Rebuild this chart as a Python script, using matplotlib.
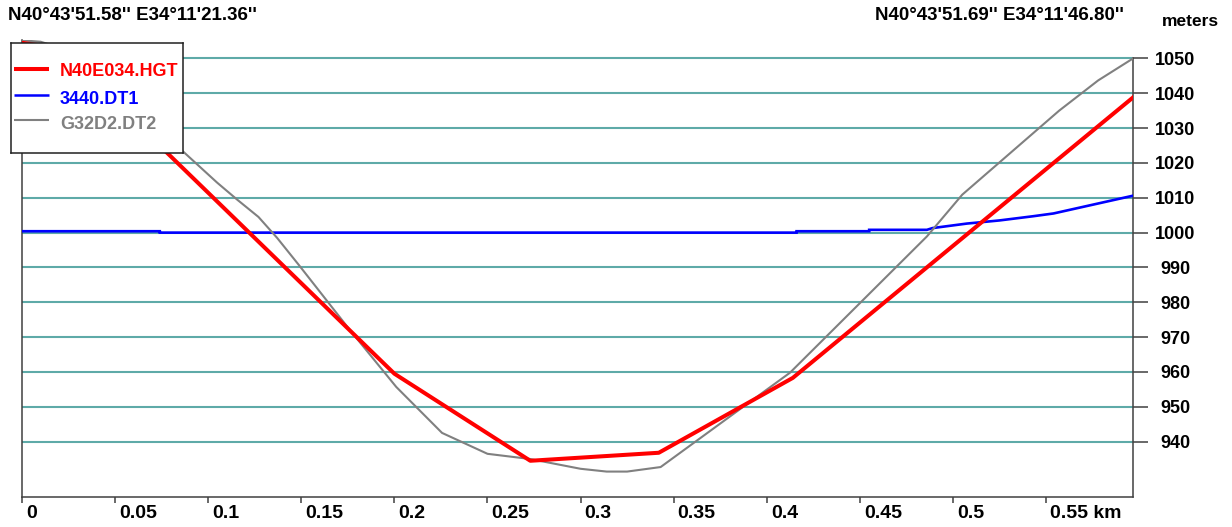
import matplotlib
matplotlib.use("Agg")
import matplotlib.pyplot as plt
from matplotlib import font_manager
from matplotlib.transforms import ScaledTranslation

# Elevation profiles along the path (distance in km, elevation in meters)
dist_hgt = [0.0, 0.02, 0.2, 0.273, 0.342, 0.414, 0.5967]
elev_hgt = [1054.5, 1053.0, 959.5, 934.5, 936.8, 958.3, 1038.8]

dist_dt1 = [0.0, 0.074, 0.074, 0.416, 0.416, 0.455, 0.455, 0.486, 0.489,
            0.5075, 0.525, 0.543, 0.554, 0.5967]
elev_dt1 = [1000.4, 1000.4, 1000.0, 1000.0, 1000.4, 1000.4, 1000.8, 1000.8,
            1001.3, 1002.6, 1003.5, 1004.7, 1005.5, 1010.6]

dist_dt2 = [0.0, 0.01, 0.03, 0.0865, 0.1047, 0.1155, 0.127, 0.137, 0.149,
            0.176, 0.201, 0.2256, 0.25, 0.273, 0.300, 0.314, 0.325, 0.343,
            0.4125, 0.486, 0.505, 0.557, 0.578, 0.5967]
elev_dt2 = [1055.2, 1054.8, 1051.5, 1023.3, 1014.4, 1009.5, 1004.5, 998.5,
            990.5, 972.1, 955.7, 942.5, 936.5, 935.0, 932.2, 931.4, 931.4,
            932.7, 959.8, 998.9, 1010.9, 1035.0, 1043.7, 1050.0]

series_names = ["N40E034.HGT", "3440.DT1", "G32D2.DT2"]
series_colors = ["#ff0000", "#0000ff", "#808080"]

x_ticks = [0, 0.05, 0.1, 0.15, 0.2, 0.25, 0.3, 0.35, 0.4, 0.45, 0.5, 0.55]
x_tick_labels = ["0", "0.05", "0.1", "0.15", "0.2", "0.25", "0.3", "0.35",
                 "0.4", "0.45", "0.5", "0.55 km"]
y_ticks = [940, 950, 960, 970, 980, 990, 1000, 1010, 1020, 1030, 1040, 1050]

start_label = "N40\u00b043'51.58'' E34\u00b011'21.36''"
end_label = "N40\u00b043'51.69'' E34\u00b011'46.80''"
unit_label = "meters"

W, H = 1232, 527
installed = {f.name for f in font_manager.fontManager.ttflist}
bold_font = "Liberation Sans" if "Liberation Sans" in installed else "DejaVu Sans"
narrow_font = ("Liberation Sans Narrow" if "Liberation Sans Narrow" in installed
               else bold_font)

axis_color = "#404040"
grid_color = "#5eaaa8"

fig = plt.figure(figsize=(W / 100, H / 100), dpi=100)
fig.patch.set_facecolor("white")

ax_left, ax_right, ax_top, ax_bottom = 22, 1133, 40, 497
ax = fig.add_axes([ax_left / W, 1 - ax_bottom / H,
                   (ax_right - ax_left) / W, (ax_bottom - ax_top) / H])
ax.set_facecolor("white")
ax.set_xlim(0, 0.5967)
ax.set_ylim(924.1, 1055.3)

# horizontal reference lines
for yv in y_ticks:
    ax.axhline(yv, color=grid_color, lw=1.5, zorder=1)

ax.plot(dist_dt1, elev_dt1, color=series_colors[1], lw=1.9, zorder=3,
        solid_joinstyle="miter")
ax.plot(dist_dt2, elev_dt2, color=series_colors[2], lw=1.5, zorder=4)
ax.plot(dist_hgt, elev_hgt, color=series_colors[0], lw=2.9, zorder=5)

for side in ("left", "bottom", "right"):
    ax.spines[side].set_color(axis_color)
    ax.spines[side].set_linewidth(1.1)
ax.spines["top"].set_visible(False)
ax.spines["right"].set_bounds(924.1, 1050)

ax.set_xticks(x_ticks)
ax.set_xticklabels(x_tick_labels)
ax.tick_params(axis="x", direction="out", length=4.5, width=1.1,
               color=axis_color, pad=1.5)
offset = ScaledTranslation(4 / 100, 0, fig.dpi_scale_trans)
for lab in ax.get_xticklabels():
    lab.set_horizontalalignment("left")
    lab.set_fontfamily(narrow_font)
    lab.set_fontweight("bold")
    lab.set_fontsize(14)
    lab.set_transform(lab.get_transform() + offset)

ax.yaxis.tick_right()
ax.set_yticks(y_ticks)
ax.set_yticklabels([str(v) for v in y_ticks])
ax.tick_params(axis="y", direction="out", length=10.8, width=1.1,
               color=axis_color, pad=19.5)
for lab in ax.get_yticklabels():
    lab.set_horizontalalignment("center")
    lab.set_fontfamily(bold_font)
    lab.set_fontweight("bold")
    lab.set_fontsize(13)

fig.text(8 / W, 1 - 15 / H, start_label, ha="left", va="center",
         fontfamily=bold_font, fontweight="bold", fontsize=13.5)
fig.text(875 / W, 1 - 15 / H, end_label, ha="left", va="center",
         fontfamily=bold_font, fontweight="bold", fontsize=13.5)
fig.text(1190 / W, 1 - 22 / H, unit_label, ha="center", va="center",
         fontfamily=bold_font, fontweight="bold", fontsize=12.5)

# legend box
lx0, ly0, lw_, lh_ = 11, 43, 172, 110
leg = fig.add_axes([lx0 / W, 1 - (ly0 + lh_) / H, lw_ / W, lh_ / H], zorder=10)
leg.set_xlim(0, lw_)
leg.set_ylim(lh_, 0)
leg.set_xticks([])
leg.set_yticks([])
leg.set_facecolor("white")
for s in leg.spines.values():
    s.set_color("#202020")
    s.set_linewidth(1.1)
line_rows = [26, 52, 76.5]
text_rows = [29, 56.5, 81.5]
handle_widths = [2.9, 1.8, 1.5]
for name, col, ly, ty, lwid in zip(series_names, series_colors, line_rows,
                                   text_rows, handle_widths):
    leg.plot([3, 38], [ly, ly], color=col, lw=lwid, solid_capstyle="butt")
    leg.text(49, ty, name, color=col, ha="left", va="center",
             fontfamily=bold_font, fontweight="bold", fontsize=13)

fig.savefig("out.png", dpi=100, facecolor="white")
